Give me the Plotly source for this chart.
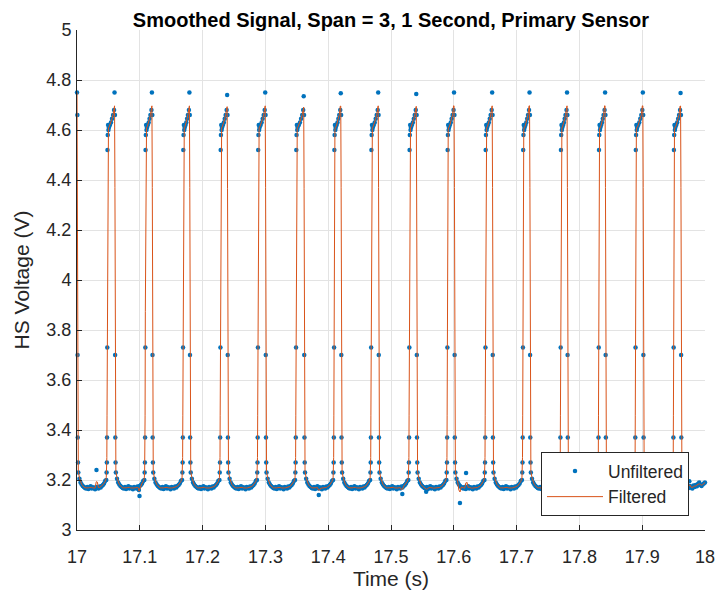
import numpy as np
import plotly.graph_objects as go

# ---------------- data ----------------
# times (s) of the falling edges (first one is the partial pulse at t = 17)
fall_times = [17.0006, 17.0604, 17.1199, 17.1796, 17.2397, 17.3003, 17.3616, 17.4206,
              17.4802, 17.5408, 17.6010, 17.6617, 17.7212, 17.7809, 17.8415, 17.9016, 17.9617]
# times (s) of the rising edges
rise_times = [17.0478, 17.1084, 17.1685, 17.2280, 17.2877, 17.3484, 17.4090, 17.4680,
              17.5288, 17.5894, 17.6500, 17.7097, 17.7698, 17.8304, 17.8890, 17.9497]
# peak (top) sample of each pulse, one per falling edge
peak_values = [4.75, 4.75, 4.75, 4.75, 4.74, 4.75, 4.735, 4.747, 4.75,
               4.744, 4.75, 4.75, 4.75, 4.75, 4.75, 4.75, 4.748]

# shape of a pulse (offsets in s relative to the edge)
pre_peak_offsets = [-0.0030, -0.0014]
pre_peak_values = [4.66, 4.68]
peak_offset = -0.0006
drop_offsets = [0.0, 0.0003, 0.0006, 0.0010, 0.0015]
drop_values = [4.66, 3.70, 3.37, 3.27, 3.23]
rise_offsets = [-0.0012, -0.0007, -0.0003, 0.0, 0.0004, 0.0008, 0.0012, 0.0017, 0.0023, 0.0030]
rise_values = [3.20, 3.23, 3.27, 3.37, 3.73, 4.52, 4.58, 4.62, 4.60, 4.61]
plateau_values = [4.62, 4.63, 4.645]
# low level between pulses (U shaped, noisy)
low_profile = [3.205, 3.19, 3.182, 3.176, 3.172, 3.168, 3.166, 3.172, 3.164, 3.17, 3.175, 3.166,
               3.171, 3.168, 3.163, 3.172, 3.169, 3.166, 3.174, 3.17, 3.176, 3.18, 3.186, 3.196]
tail_values = [3.215, 3.195, 3.185, 3.178, 3.172, 3.168, 3.176, 3.17, 3.166, 3.178, 3.172,
               3.18, 3.175, 3.185, 3.19, 3.18, 3.176, 3.182, 3.186, 3.19]
# stray samples
outlier_times = [17.031, 17.0985, 17.0995, 17.385, 17.518, 17.556, 17.6098, 17.6195, 17.975]
outlier_values = [3.24, 3.16, 3.136, 3.14, 3.144, 3.153, 3.108, 3.228, 3.195]

x_tick_vals = [17.0, 17.1, 17.2, 17.3, 17.4, 17.5, 17.6, 17.7, 17.8, 17.9, 18.0]
x_tick_text = ["17", "17.1", "17.2", "17.3", "17.4", "17.5", "17.6", "17.7", "17.8", "17.9", "18"]
y_tick_vals = [3.0, 3.2, 3.4, 3.6, 3.8, 4.0, 4.2, 4.4, 4.6, 4.8, 5.0]
y_tick_text = ["3", "3.2", "3.4", "3.6", "3.8", "4", "4.2", "4.4", "4.6", "4.8", "5"]

# ---------------- assemble the sampled signal ----------------
t_list, v_list = [], []


def add(t, v):
    if 17.0 - 1e-9 <= t <= 18.0 + 1e-9:
        t_list.append(t)
        v_list.append(v)


for i, f in enumerate(fall_times):
    if i > 0:
        r = rise_times[i - 1]
        for o, v in zip(rise_offsets, rise_values):
            add(r + o, v)
        ps = np.linspace(r + rise_offsets[-1], f + pre_peak_offsets[0], len(plateau_values) + 2)[1:-1]
        for t, v in zip(ps, plateau_values):
            add(t, v)
    for o, v in zip(pre_peak_offsets, pre_peak_values):
        add(f + o, v)
    add(f + peak_offset, peak_values[i])
    for o, v in zip(drop_offsets, drop_values):
        add(f + o, v)
    start = f + drop_offsets[-1]
    if i < len(rise_times):
        end = rise_times[i] + rise_offsets[0]
        ts = np.linspace(start, end, len(low_profile) + 2)[1:-1]
        vals = low_profile
    else:
        ts = np.linspace(start, 18.0, len(tail_values) + 1)[1:]
        vals = tail_values
    for t, v in zip(ts, vals):
        add(t, v)

for t, v in zip(outlier_times, outlier_values):
    add(t, v)

order = np.argsort(t_list)
t_arr = np.array(t_list)[order]
v_arr = np.array(v_list)[order]

# MATLAB smooth(y, 3): 3-point moving average, end points kept
filt = v_arr.copy()
filt[1:-1] = (v_arr[:-2] + v_arr[1:-1] + v_arr[2:]) / 3.0

# ---------------- figure ----------------
# the page body has an 8px default margin on every side, so the figure is
# sized to fit the 724x599 window without scrolling
W, H = 716, 583
FONT = "Liberation Sans, Arial, sans-serif"
TXT = "#262626"

fig = go.Figure()
fig.add_trace(go.Scatter(
    x=t_arr, y=v_arr, mode="markers", name="Unfiltered",
    marker=dict(color="#0072BD", size=4.5, line=dict(width=0)),
    cliponaxis=False,
))
fig.add_trace(go.Scatter(
    x=t_arr, y=filt, mode="lines", name="Filtered",
    line=dict(color="#D95319", width=1),
))

fig.update_layout(
    width=W, height=H,
    margin=dict(l=69, r=19, t=22, b=61, autoexpand=False),
    paper_bgcolor="white", plot_bgcolor="white",
    font=dict(family=FONT, size=18, color=TXT),
    title=dict(text="<b>Smoothed Signal, Span = 3, 1 Second, Primary Sensor</b>",
               x=0.5, xref="paper", xanchor="center",
               y=1 - 11.5 / H, yref="container", yanchor="middle", automargin=False,
               font=dict(family=FONT, size=20, color="#000000")),
    showlegend=True,
    legend=dict(x=(541 - 77) / 628, y=(530 - 484) / 500, xanchor="left", yanchor="middle",
                bgcolor="white", bordercolor=TXT, borderwidth=1,
                font=dict(family=FONT, size=17.5, color=TXT),
                itemwidth=56, tracegroupgap=0),
)
fig.update_xaxes(
    range=[17, 18], tickvals=x_tick_vals, ticktext=x_tick_text, automargin=False,
    showgrid=True, gridcolor="#e3e3e3", gridwidth=1,
    showline=True, linecolor=TXT, linewidth=1, mirror=False,
    ticks="inside", ticklen=5, tickcolor=TXT, zeroline=False,
    ticklabelstandoff=10,
    tickfont=dict(family=FONT, size=18, color=TXT),
    title=dict(text="Time (s)", font=dict(family=FONT, size=21, color=TXT), standoff=3),
)
fig.update_yaxes(
    range=[3, 5], tickvals=y_tick_vals, ticktext=y_tick_text, automargin=False,
    showgrid=True, gridcolor="#e3e3e3", gridwidth=1,
    showline=True, linecolor=TXT, linewidth=1, mirror=False,
    ticks="inside", ticklen=5, tickcolor=TXT, zeroline=False,
    ticklabelstandoff=1,
    tickfont=dict(family=FONT, size=18, color=TXT),
    title=dict(text="HS Voltage (V)", font=dict(family=FONT, size=21, color=TXT), standoff=11),
)

fig.write_html("out.html")
